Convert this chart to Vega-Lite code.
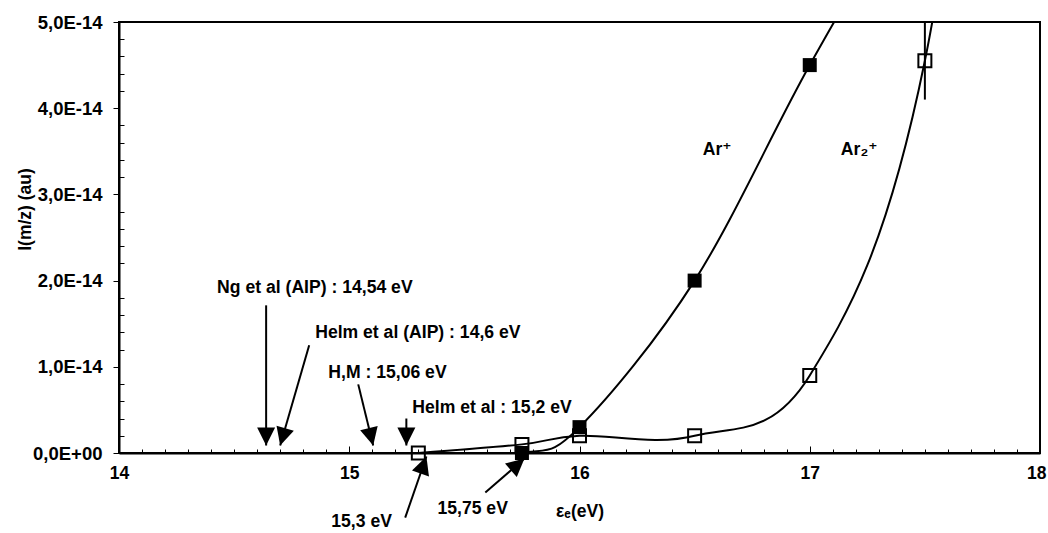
{
  "$schema": "https://vega.github.io/schema/vega-lite/v6.json",
  "width": 921,
  "height": 431,
  "autosize": {"type": "none"},
  "padding": {"left": 119, "top": 22, "right": 8, "bottom": 80},
  "background": "white",
  "config": {
    "view": {"stroke": "black", "strokeWidth": 2},
    "font": "Liberation Sans",
    "text": {"font": "Liberation Sans"}
  },
  "datasets": {
    "series": [
      {"ion": "Ar+", "e": 15.3, "i": 0, "shown": false},
      {"ion": "Ar+", "e": 15.75, "i": 0, "shown": true},
      {"ion": "Ar+", "e": 16, "i": 3e-15, "shown": true},
      {"ion": "Ar+", "e": 16.5, "i": 2e-14, "shown": true},
      {"ion": "Ar+", "e": 17, "i": 4.5e-14, "shown": true},
      {"ion": "Ar+", "e": 17.5, "i": 6.8e-14, "shown": false},
      {"ion": "Ar2+", "e": 15.3, "i": 0, "shown": true},
      {"ion": "Ar2+", "e": 15.75, "i": 1e-15, "shown": true},
      {"ion": "Ar2+", "e": 16, "i": 2e-15, "shown": true},
      {"ion": "Ar2+", "e": 16.5, "i": 2e-15, "shown": true},
      {"ion": "Ar2+", "e": 17, "i": 9e-15, "shown": true},
      {"ion": "Ar2+", "e": 17.5, "i": 4.55e-14, "shown": true},
      {"ion": "Ar2+", "e": 18, "i": 1.4e-13, "shown": false}
    ],
    "errors": [
      {"ion": "Ar2+", "e": 17.5, "lo": 4.1e-14, "hi": 5.0e-14}
    ],
    "notes": [
      {"label": "Ng et al (AIP) :  14,54 eV", "tx": 14.426, "ty": 1.91e-14, "x0": 14.639, "y0": 1.713e-14, "x1": 14.639, "y1": 0.087e-14},
      {"label": "Helm et al (AIP) : 14,6 eV", "tx": 14.852, "ty": 1.388e-14, "x0": 14.826, "y0": 1.249e-14, "x1": 14.70, "y1": 0.087e-14},
      {"label": "H,M : 15,06 eV", "tx": 14.909, "ty": 0.923e-14, "x0": 15.039, "y0": 0.796e-14, "x1": 15.104, "y1": 0.087e-14},
      {"label": "Helm et al : 15,2 eV", "tx": 15.274, "ty": 0.517e-14, "x0": 15.248, "y0": 0.40e-14, "x1": 15.248, "y1": 0.087e-14},
      {"label": "15,3 eV", "tx": 14.922, "ty": -0.796e-14, "x0": 15.243, "y0": -0.749e-14, "x1": 15.335, "y1": -0.041e-14},
      {"label": "15,75 eV", "tx": 15.383, "ty": -0.645e-14, "x0": 15.591, "y0": -0.459e-14, "x1": 15.761, "y1": -0.064e-14}
    ],
    "ions": [
      {"label": "Ar⁺", "tx": 16.535, "ty": 3.513e-14},
      {"label": "Ar₂⁺", "tx": 17.135, "ty": 3.513e-14}
    ]
  },
  "layer": [
    {
      "data": {"name": "series"},
      "mark": {"type": "line", "interpolate": "cardinal", "color": "black", "strokeWidth": 2, "clip": true},
      "encoding": {
        "x": {
          "field": "e", "type": "quantitative",
          "scale": {"domain": [14, 18], "nice": false, "zero": false},
          "axis": {
            "title": "εₑ(eV)",
            "values": [14, 14.1, 14.2, 14.3, 14.4, 14.5, 14.6, 14.7, 14.8, 14.9, 15, 15.1, 15.2, 15.3, 15.4, 15.5, 15.6, 15.7, 15.8, 15.9, 16, 16.1, 16.2, 16.3, 16.4, 16.5, 16.6, 16.7, 16.8, 16.9, 17, 17.1, 17.2, 17.3, 17.4, 17.5, 17.6, 17.7, 17.8, 17.9, 18],
            "tickCount": 500,
            "labelExpr": "datum.value == round(datum.value) ? format(datum.value, 'd') : ''",
            "tickSize": {"condition": {"test": "datum.value == round(datum.value)", "value": -7}, "value": -4},
            "labelAlign": {"condition": {"test": "datum.value == 18", "value": "right"}, "value": "center"},
            "labelOffset": {"condition": {"test": "datum.value == 18", "value": 6}, "value": 0},
            "tickColor": "black",
            "tickWidth": 1,
            "domainColor": "black",
            "domainWidth": 2,
            "grid": false,
            "labelFont": "Liberation Sans",
            "labelFontWeight": "bold",
            "labelFontSize": 17.5,
            "labelColor": "black",
            "labelPadding": 18,
            "labelFlush": false,
            "labelOverlap": false,
            "titleFont": "Liberation Sans, DejaVu Sans",
            "titleFontWeight": "bold",
            "titleFontSize": 17.5,
            "titleColor": "black",
            "titlePadding": 18
          }
        },
        "y": {
          "field": "i", "type": "quantitative",
          "scale": {"domain": [0, 5e-14], "nice": false, "zero": false},
          "axis": {
            "title": "I(m/z) (au)",
            "values": [0, 2e-15, 4e-15, 6e-15, 8e-15, 1e-14, 1.2e-14, 1.4e-14, 1.6e-14, 1.8e-14, 2e-14, 2.2e-14, 2.4e-14, 2.6e-14, 2.8e-14, 3e-14, 3.2e-14, 3.4e-14, 3.6e-14, 3.8e-14, 4e-14, 4.2e-14, 4.4e-14, 4.6e-14, 4.8e-14, 5e-14],
            "tickCount": 500,
            "labelExpr": "abs(datum.value*1e14 - round(datum.value*1e14)) < 0.01 ? (datum.value == 0 ? '0,0E+00' : replace(format(round(datum.value*1e14), '.1f'), '.', ',') + 'E-14') : ''",
            "tickSize": {"condition": {"test": "abs(datum.value*1e14 - round(datum.value*1e14)) < 0.01", "value": 6}, "value": -5},
            "tickColor": "black",
            "tickWidth": 1,
            "domainColor": "black",
            "domainWidth": 2,
            "grid": false,
            "labelFont": "Liberation Sans",
            "labelFontWeight": "bold",
            "labelFontSize": 18.5,
            "labelColor": "black",
            "labelPadding": 11,
            "labelOverlap": false,
            "labelFlush": false,
            "titleFont": "Liberation Sans",
            "titleFontWeight": "bold",
            "titleFontSize": 17.5,
            "titleColor": "black",
            "titleBaseline": "middle",
            "titleAlign": "center",
            "titleX": -94,
            "titleY": 187
          }
        },
        "detail": {"field": "ion"}
      }
    },
    {
      "data": {"name": "series"},
      "transform": [{"filter": "datum.shown && datum.ion == 'Ar2+'"}],
      "mark": {"type": "point", "shape": "square", "filled": false, "stroke": "black", "strokeWidth": 2, "size": 169, "opacity": 1},
      "encoding": {
        "x": {"field": "e", "type": "quantitative"},
        "y": {"field": "i", "type": "quantitative"}
      }
    },
    {
      "data": {"name": "series"},
      "transform": [{"filter": "datum.shown && datum.ion == 'Ar+'"}],
      "mark": {"type": "point", "shape": "square", "filled": true, "color": "black", "size": 196, "opacity": 1},
      "encoding": {
        "x": {"field": "e", "type": "quantitative"},
        "y": {"field": "i", "type": "quantitative"}
      }
    },
    {
      "data": {"name": "errors"},
      "mark": {"type": "rule", "color": "black", "strokeWidth": 2, "clip": true},
      "encoding": {
        "x": {"field": "e", "type": "quantitative"},
        "y": {"field": "lo", "type": "quantitative"},
        "y2": {"field": "hi"}
      }
    },
    {
      "data": {"name": "notes"},
      "mark": {"type": "rule", "color": "black", "strokeWidth": 2},
      "encoding": {
        "x": {"field": "x0", "type": "quantitative"},
        "y": {"field": "y0", "type": "quantitative"},
        "x2": {"field": "x1"},
        "y2": {"field": "y1"}
      }
    },
    {
      "data": {"name": "notes"},
      "transform": [
        {"calculate": "atan2(-(datum.x1 - datum.x0) * 921 / 4, (datum.y0 - datum.y1) * 431 / 5e-14) * 180 / PI", "as": "ang"}
      ],
      "mark": {"type": "point", "shape": "M0,0L-1,-2L1,-2Z", "filled": true, "color": "black", "size": 324, "opacity": 1},
      "encoding": {
        "x": {"field": "x1", "type": "quantitative"},
        "y": {"field": "y1", "type": "quantitative"},
        "angle": {"field": "ang", "type": "quantitative", "scale": null}
      }
    },
    {
      "data": {"name": "notes"},
      "mark": {"type": "text", "align": "left", "baseline": "middle", "fontSize": 17.6, "fontWeight": "bold", "font": "Liberation Sans", "color": "black"},
      "encoding": {
        "x": {"field": "tx", "type": "quantitative"},
        "y": {"field": "ty", "type": "quantitative"},
        "text": {"field": "label"}
      }
    },
    {
      "data": {"name": "ions"},
      "mark": {"type": "text", "align": "left", "baseline": "middle", "fontSize": 17.6, "fontWeight": "bold", "font": "Liberation Sans, DejaVu Sans", "color": "black"},
      "encoding": {
        "x": {"field": "tx", "type": "quantitative"},
        "y": {"field": "ty", "type": "quantitative"},
        "text": {"field": "label"}
      }
    }
  ]
}
